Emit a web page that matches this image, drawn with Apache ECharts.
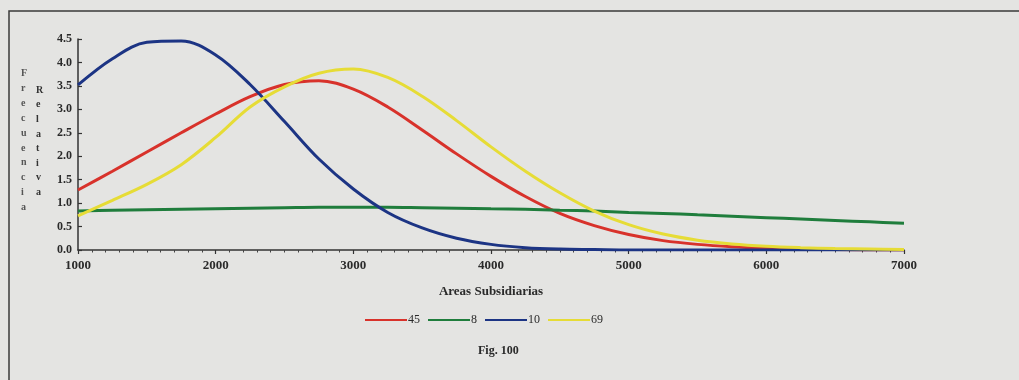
<!DOCTYPE html>
<html>
<head>
<meta charset="utf-8">
<script src="https://cdn.jsdelivr.net/npm/echarts@6/dist/echarts.min.js"></script>
<style>
  html, body { margin: 0; padding: 0; background: #e4e4e2; }
  #chart { width: 1019px; height: 380px; }
</style>
</head>
<body>
<div id="chart"></div>
<script>
// Area values (x) shared by every curve
const areas = [1000, 1250, 1500, 1750, 2000, 2250, 2500, 2750, 3000, 3250, 3500, 3750, 4000,
               4250, 4500, 4750, 5000, 5250, 5500, 5750, 6000, 6250, 6500, 6750, 7000];

// Relative frequency per group
const serie45 = [1.28, 1.68, 2.09, 2.50, 2.90, 3.27, 3.53, 3.61, 3.43, 3.05, 2.56, 2.05, 1.57,
                 1.14, 0.78, 0.52, 0.33, 0.20, 0.12, 0.07, 0.04, 0.02, 0.01, 0.00, 0.00];
const serie8  = [0.83, 0.85, 0.86, 0.87, 0.88, 0.89, 0.90, 0.91, 0.91, 0.91, 0.90, 0.89, 0.88,
                 0.87, 0.85, 0.83, 0.80, 0.78, 0.75, 0.72, 0.69, 0.66, 0.63, 0.60, 0.57];
const serie10 = [3.52, 4.08, 4.43, 4.46, 4.16, 3.53, 2.74, 1.94, 1.30, 0.80, 0.47, 0.25, 0.12,
                 0.05, 0.02, 0.01, 0.00, 0.00, 0.00, 0.00, 0.00, 0.00, 0.00, 0.00, 0.00];
const serie69 = [0.73, 1.06, 1.40, 1.82, 2.40, 3.05, 3.48, 3.77, 3.86, 3.68, 3.28, 2.76, 2.20,
                 1.68, 1.22, 0.83, 0.54, 0.34, 0.21, 0.13, 0.08, 0.05, 0.03, 0.02, 0.01];

const seriesNames  = ['45', '8', '10', '69'];
const seriesValues = [serie45, serie8, serie10, serie69];
const seriesColors = ['#d8322b', '#1f7d3c', '#1c3484', '#e6dc36'];

const yTicks = { min: 0, max: 4.5, step: 0.5 };
const xTicks = { min: 1000, max: 7000, step: 1000 };

const serif = 'Liberation Serif';
const ink = '#2a2a2a';

const chart = echarts.init(document.getElementById('chart'), null, { renderer: 'canvas' });

const series = seriesNames.map((name, i) => ({
  name: name,
  type: 'line',
  smooth: 0.35,
  showSymbol: false,
  data: areas.map((a, k) => [a, seriesValues[i][k]]),
  lineStyle: { width: 3, color: seriesColors[i] },
  itemStyle: { color: seriesColors[i] },
  z: 3 + i
}));

// Vertical, one-letter-per-line axis caption
const stack = s => s.split('').join('\n');

chart.setOption({
  backgroundColor: '#e4e4e2',
  animation: false,
  grid: { left: 78, right: 115, top: 39, bottom: 130 },
  legend: {
    data: seriesNames,
    bottom: 49,
    left: 360,
    itemWidth: 42,
    itemHeight: 10,
    itemGap: 8,
    icon: 'path://M0,4 L42,4 L42,6 L0,6 Z',
    textStyle: { fontFamily: serif, fontSize: 12, color: ink, padding: [0, 0, 0, -4] }
  },
  xAxis: {
    type: 'value',
    min: xTicks.min, max: xTicks.max, interval: xTicks.step,
    name: 'Areas Subsidiarias',
    nameLocation: 'middle',
    nameGap: 35,
    nameTextStyle: { fontFamily: serif, fontSize: 13, color: ink, fontWeight: 'bold' },
    axisLine: { lineStyle: { color: '#333', width: 1.5 } },
    axisTick: { length: 4, lineStyle: { color: '#333', width: 1.2 } },
    minorTick: { show: true, splitNumber: 10, length: 2.5, lineStyle: { color: '#444', width: 1 } },
    axisLabel: {
      fontFamily: serif, fontSize: 13, color: ink, fontWeight: 'bold', margin: 9,
      formatter: v => String(v)
    },
    splitLine: { show: false }
  },
  yAxis: {
    type: 'value',
    min: yTicks.min, max: yTicks.max, interval: yTicks.step,
    axisLine: { show: true, lineStyle: { color: '#333', width: 1.5 } },
    axisTick: { show: true, inside: true, length: 4, lineStyle: { color: '#333', width: 1.2 } },
    axisLabel: {
      fontFamily: serif, fontSize: 12, color: ink, fontWeight: 'bold', margin: 6,
      formatter: v => v.toFixed(1)
    },
    splitLine: { show: false }
  },
  series: series,
  graphic: [
    {
      type: 'rect',
      shape: { x: 9, y: 11, width: 1030, height: 400 },
      style: { fill: 'none', stroke: '#3a3a3a', lineWidth: 1.5 },
      silent: true, z: 0
    },
    {
      type: 'text', left: 21, top: 66,
      style: { text: stack('Frecuencia'), fontFamily: serif, fontSize: 10, lineHeight: 14.9,
               fill: '#555', align: 'center', fontWeight: 'bold' }
    },
    {
      type: 'text', left: 36, top: 83,
      style: { text: stack('Relativa'), fontFamily: serif, fontSize: 10, lineHeight: 14.6,
               fill: '#333', align: 'center', fontWeight: 'bold' }
    },
    {
      type: 'text', left: 478, top: 345,
      style: { text: 'Fig. 100', fontFamily: serif, fontSize: 12, fill: ink, fontWeight: 'bold' }
    }
  ]
});
</script>
</body>
</html>
